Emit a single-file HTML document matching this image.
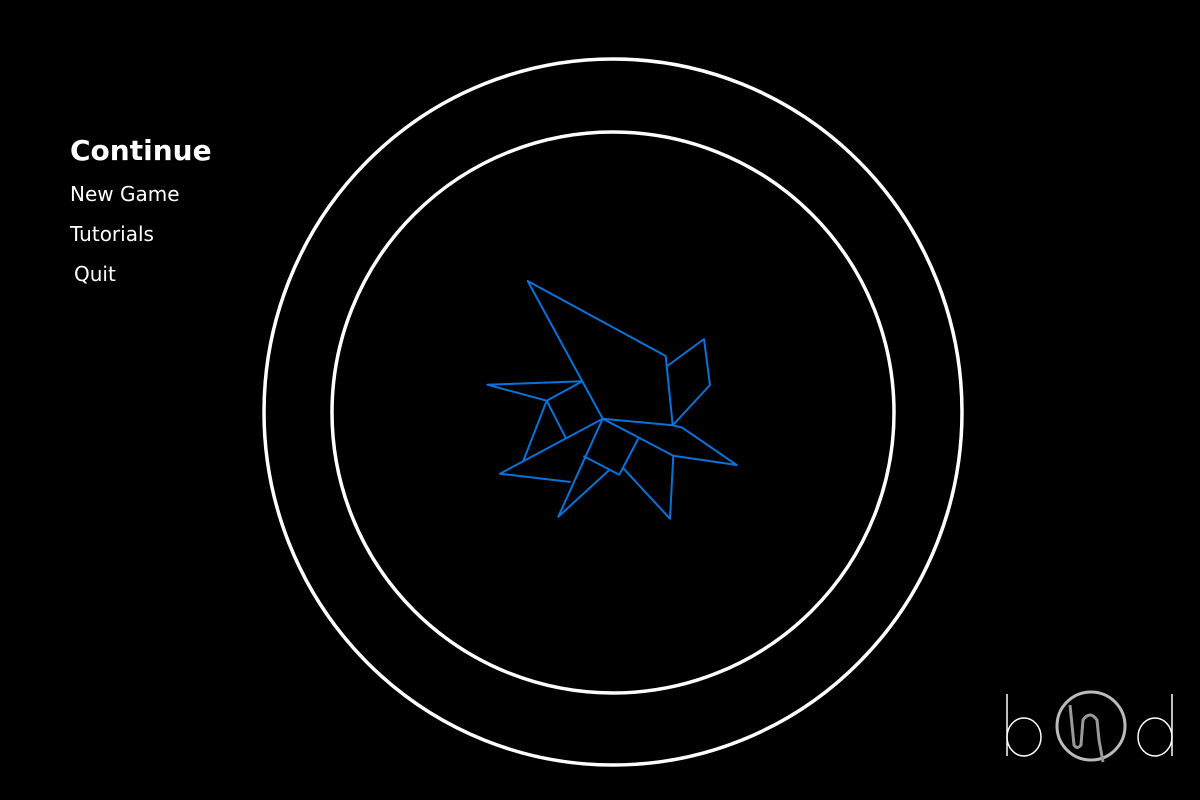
<!DOCTYPE html>
<html><head><meta charset="utf-8"><style>
html,body{margin:0;background:#000;width:1200px;height:800px;overflow:hidden}
.m{position:absolute;color:#fff;font-family:"DejaVu Sans","Liberation Sans",sans-serif;cursor:pointer}
</style></head><body>
<svg width="1200" height="800" style="position:absolute;left:0;top:0">
<ellipse cx="613" cy="412" rx="349" ry="353" fill="none" stroke="#fff" stroke-width="3.5"/>
<ellipse cx="613" cy="412.5" rx="281" ry="280.5" fill="none" stroke="#fff" stroke-width="3.5"/>
<g fill="none" stroke="#0a72d8" stroke-width="2" stroke-linejoin="round">
<polyline points="602.7,418.7 527.7,281 665.7,356 672.7,425.3 602.7,418.7"/>
<polyline points="667.3,366 704,339 710,385 672.7,425.3 682.3,427.7 736.7,465 673.3,455.7 602.7,418.7"/>
<polyline points="582.3,381.3 487.3,384.7 546.7,400.7 582.3,381.3"/>
<polyline points="546.7,400.7 566,438.3"/>
<polyline points="546.7,400.7 523.3,461"/>
<polyline points="602.7,418.7 500,473.7 570.7,482"/>
<polyline points="602.7,418.7 558.3,516.7 609.3,470"/>
<polyline points="583.3,456 619.3,474.7 638.3,438.7"/>
<polyline points="673.3,455.7 670,518.7 623.3,468.3"/>
</g>
<g fill="none">
<line x1="1007" y1="694" x2="1007" y2="756" stroke="#fff" stroke-width="1.5"/>
<ellipse cx="1024" cy="737" rx="17" ry="19" stroke="#fff" stroke-width="1.5"/>
<line x1="1172" y1="694" x2="1172" y2="756" stroke="#fff" stroke-width="1.5"/>
<ellipse cx="1155" cy="737" rx="17" ry="19" stroke="#fff" stroke-width="1.5"/>
<circle cx="1091" cy="726" r="34" stroke="#bbb" stroke-width="3"/>
<path d="M1070,705 L1074,745 Q1077,750 1081,745 L1083,720 Q1090,710 1097,720 L1099,740 L1103,762" stroke="#999" stroke-width="3"/>
</g>
</svg>
<div class="m" style="left:70px;top:134px;font-size:28px;font-weight:bold">Continue</div>
<div class="m" style="left:70px;top:182px;font-size:20px">New Game</div>
<div class="m" style="left:70px;top:222px;font-size:20px">Tutorials</div>
<div class="m" style="left:74px;top:262px;font-size:20px">Quit</div>
</body></html>
